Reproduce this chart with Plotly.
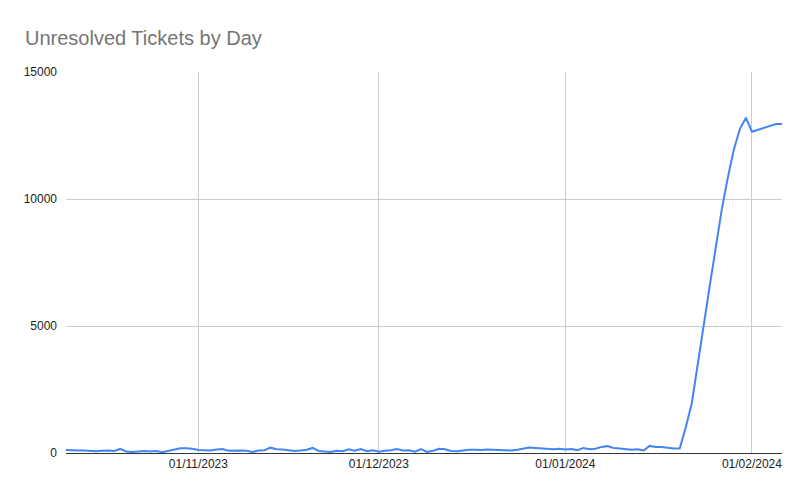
import pandas as pd
import plotly.graph_objects as go

start_date = "2023-10-10"
tickets = [
    120, 100, 95, 100, 80, 70, 90, 100, 80, 160,          # Oct 10-19
    60, 40, 60, 80, 60, 80, 30, 90, 120, 190,             # Oct 20-29
    190, 170,                                             # Oct 30-31
    120, 110, 100, 140, 160, 90, 110, 100, 90, 40,        # Nov 1-10
    100, 110, 210, 150, 140, 120, 80, 100, 130, 200,      # Nov 11-20
    80, 60, 40, 90, 70, 150, 90, 160, 70, 110,            # Nov 21-30
    50, 90, 110, 160, 100, 110, 50, 150, 40, 90,          # Dec 1-10
    170, 150, 80, 70, 110, 130, 130, 120, 140, 130,       # Dec 11-20
    110, 110, 100, 130, 170, 220, 200, 180, 170, 150,     # Dec 21-30
    170,                                                  # Dec 31
    140, 160, 110, 200, 150, 170, 240, 270, 200, 180,     # Jan 1-10
    150, 130, 150, 100, 280, 240, 240, 210, 180, 180,     # Jan 11-20
    1000, 1950, 3550, 5100, 6600, 8100, 9600, 10850, 11950, 12750,  # Jan 21-30
    13200,                                                # Jan 31
    12650, 12730, 12800, 12870, 12950, 12950,             # Feb 1-6
]
dates = pd.date_range(start_date, periods=len(tickets), freq="D")

x_tick_vals = ["2023-11-01", "2023-12-01", "2024-01-01", "2024-02-01"]
x_tick_text = ["01/11/2023", "01/12/2023", "01/01/2024", "01/02/2024"]
y_tick_vals = [0, 5000, 10000, 15000]

W, H = 800, 491  # page body has an 8px margin

FONT = "Liberation Sans, Arial, sans-serif"

fig = go.Figure()
fig.add_trace(go.Scatter(
    x=dates, y=tickets, mode="lines",
    line=dict(color="#4285F4", width=2),
    hoverinfo="x+y",
))

fig.update_layout(
    width=W, height=H,
    paper_bgcolor="white", plot_bgcolor="white",
    margin=dict(l=58, r=26, t=64, b=46, autoexpand=False),
    font=dict(family=FONT, size=12, color="#222222"),
    title=dict(text="Unresolved Tickets by Day", x=17 / W, xanchor="left",
               y=1 - 30 / H, yanchor="middle",
               font=dict(size=20, color="#757575", family=FONT)),
    showlegend=False,
)
fig.update_xaxes(
    range=[dates[0], dates[-1]],
    tickvals=x_tick_vals, ticktext=x_tick_text,
    showgrid=True, gridcolor="#cccccc", gridwidth=1,
    showline=True, linecolor="#333333", linewidth=1,
    ticks="", zeroline=False,
)
fig.update_yaxes(
    range=[0, 15000],
    tickvals=y_tick_vals, tickformat="d",
    showgrid=True, gridcolor="#cccccc", gridwidth=1,
    zeroline=False, showline=False, ticks="",
    ticklabelstandoff=8,
)

fig.write_html("out.html")
